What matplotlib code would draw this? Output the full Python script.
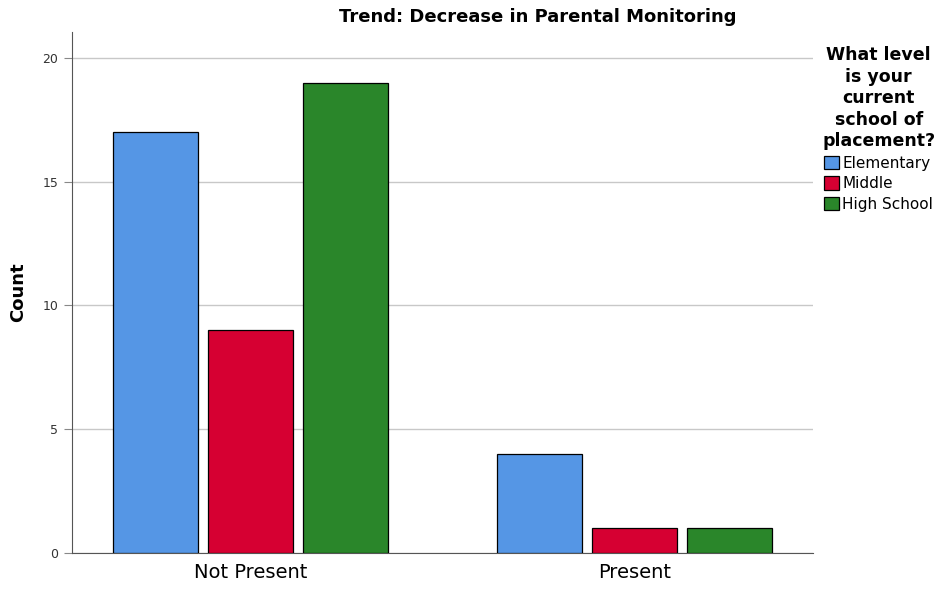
import matplotlib.pyplot as plt
import numpy as np

categories = ["Not Present", "Present"]
levels = ["Elementary", "Middle", "High School"]
elementary = [17, 4]
middle = [9, 1]
high_school = [19, 1]
colors = ["#5596e5", "#d60032", "#2a862a"]

fig = plt.figure(figsize=(9.41, 5.9), dpi=100)
ax = fig.add_axes([72 / 941, 37 / 590, (813 - 72) / 941, (553 - 32) / 590])

x = np.arange(len(categories))
step = 95 / 384
width = 85 / 384
for i, (vals, name, c) in enumerate(zip([elementary, middle, high_school], levels, colors)):
    ax.bar(x + (i - 1) * step, vals, width, color=c, edgecolor="black",
           linewidth=0.9, label=name, zorder=3)

ax.set_xlim(-0.465, 1.465)
ax.set_ylim(0, 21.05)
ax.set_yticks([0, 5, 10, 15, 20])
ax.yaxis.grid(True, color="#c8c8c8", linewidth=1, zorder=0)
ax.set_axisbelow(True)
for s in ["top", "right"]:
    ax.spines[s].set_visible(False)
ax.spines["left"].set_color("#555555")
ax.spines["bottom"].set_color("#555555")
ax.tick_params(axis="y", labelsize=9, length=6, color="#888888", labelcolor="#333333", pad=4)
ax.tick_params(axis="x", labelsize=14, length=0, pad=7)
ax.set_xticks(x)
ax.set_xticklabels(categories)
ax.set_ylabel("Count", fontsize=13, fontweight="bold")
ax.yaxis.set_label_coords((27 - 72) / 741, 0.5)

fig.text(538 / 941, 1 - 17 / 590, "Trend: Decrease in Parental Monitoring",
         ha="center", va="center", fontsize=13, fontweight="bold")

leg = ax.legend(loc="upper left", bbox_to_anchor=(1.0, 0.99), frameon=False,
                title="What level\nis your\ncurrent\nschool of\nplacement?",
                fontsize=11, handlelength=1.0, handleheight=1.0, handletextpad=0.2,
                labelspacing=0.35, borderaxespad=0.2)
leg.get_title().set_fontweight("bold")
leg.get_title().set_fontsize(12.5)
leg.get_title().set_multialignment("center")
leg.get_title().set_linespacing(1.25)

fig.savefig("out.png", dpi=100)
